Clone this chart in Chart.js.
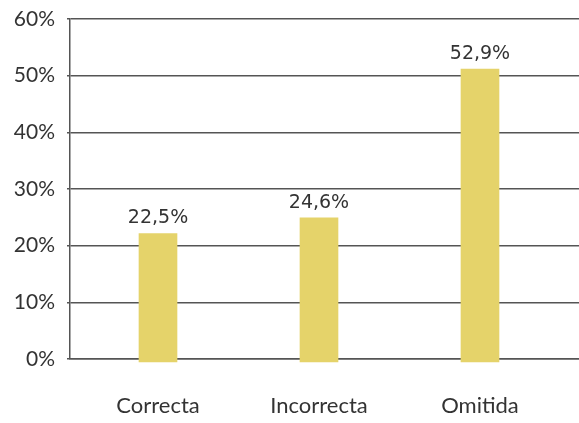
<!DOCTYPE html>
<html>
<head>
<meta charset="utf-8">
<script src="https://cdn.jsdelivr.net/npm/chart.js@4/dist/chart.umd.min.js"></script>
<style>
  html, body { margin: 0; padding: 0; background: #fff; }
  #wrap { width: 579px; height: 423px; }
</style>
</head>
<body>
<div id="wrap"><canvas id="grafico" width="579" height="423"></canvas></div>
<script>
// datos
var categorias = ["Correcta", "Incorrecta", "Omitida"];
var alturas = [22.15, 24.93, 51.17];          // altura de cada barra
var etiquetas = ["22,5%", "24,6%", "52,9%"];  // texto sobre cada barra
var ticksY = [0, 10, 20, 30, 40, 50, 60];

var colorBarra = "#E5D36A";
var colorTexto = "#333333";
var colorLinea = "#555555";

// etiquetas encima de las barras
var etiquetasBarras = {
    id: "etiquetasBarras",
    afterDatasetsDraw: function (chart) {
        var ctx = chart.ctx;
        var meta = chart.getDatasetMeta(0);
        ctx.save();
        ctx.font = "19px 'DejaVu Sans'";
        ctx.fillStyle = colorTexto;
        ctx.textAlign = "center";
        ctx.textBaseline = "alphabetic";
        meta.data.forEach(function (barra, i) {
            ctx.fillText(etiquetas[i], barra.x, barra.y - 10);
        });
        ctx.restore();
    }
};

var ctx = document.getElementById("grafico").getContext("2d");
new Chart(ctx, {
    type: "bar",
    data: {
        datasets: [{
            data: categorias.map(function (c, i) { return { x: i, y: alturas[i] }; }),
            backgroundColor: colorBarra,
            borderWidth: 0,
            barThickness: 38,
            base: -0.53,
            clip: false
        }]
    },
    plugins: [etiquetasBarras],
    options: {
        responsive: false,
        animation: false,
        layout: { padding: { top: 19, right: 0, bottom: 0, left: 0 } },
        plugins: { legend: { display: false }, tooltip: { enabled: false } },
        scales: {
            x: {
                type: "linear",
                offset: false,
                min: -0.5466,
                max: 2.615,
                z: 1,
                afterFit: function (scale) {
                    scale.height = 64;
                    scale.paddingLeft = 0;
                    scale.paddingRight = 0;
                },
                grid: { display: false, drawTicks: false },
                border: { display: true, color: colorLinea, width: 1.5 },
                afterBuildTicks: function (scale) {
                    scale.ticks = categorias.map(function (c, i) { return { value: i }; });
                },
                ticks: {
                    autoSkip: false,
                    maxRotation: 0,
                    padding: 34,
                    color: colorTexto,
                    font: { family: "Lato", size: 22 },
                    callback: function (v) { return categorias[v]; }
                }
            },
            y: {
                min: 0,
                max: 60,
                afterFit: function (scale) {
                    scale.width = 70;
                    scale.paddingTop = 0;
                    scale.paddingBottom = 0;
                },
                afterBuildTicks: function (scale) {
                    scale.ticks = ticksY.map(function (v) { return { value: v }; });
                },
                grid: { color: colorLinea, lineWidth: 1.5, tickLength: 3 },
                border: { display: true, color: colorLinea, width: 1.5 },
                ticks: {
                    padding: 12,
                    color: colorTexto,
                    font: { family: "Lato", size: 21 },
                    callback: function (v) { return v + "%"; }
                }
            }
        }
    }
});
</script>
</body>
</html>
